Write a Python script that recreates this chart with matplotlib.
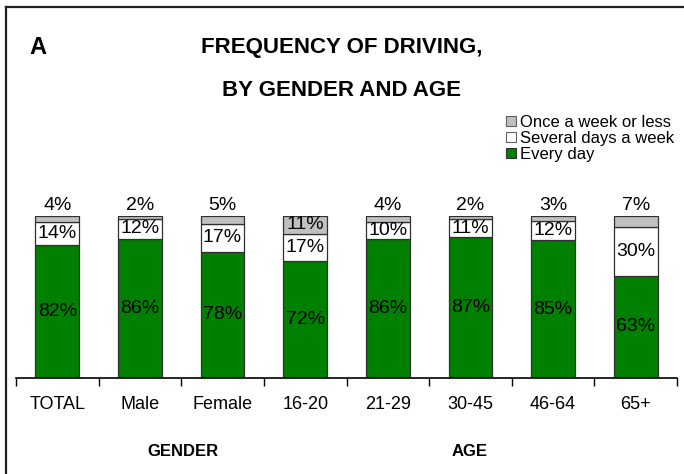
import matplotlib
matplotlib.use("Agg")
import matplotlib.pyplot as plt
from matplotlib.patches import Patch
from matplotlib.lines import Line2D
import numpy as np

categories = ["TOTAL", "Male", "Female", "16-20", "21-29", "30-45", "46-64", "65+"]
every_day = [82, 86, 78, 72, 86, 87, 85, 63]
several_days = [14, 12, 17, 17, 10, 11, 12, 30]
once_or_less = [4, 2, 5, 11, 4, 2, 3, 7]
group_labels = ["GENDER", "AGE"]

FONT = ["Liberation Sans Narrow", "Liberation Sans", "DejaVu Sans"]
plt.rcParams["font.family"] = FONT

W, H = 684, 474
fig = plt.figure(figsize=(W / 100, H / 100), dpi=100)
ax = fig.add_axes([16 / W, 96 / H, 661 / W, 162 / H])

x = np.arange(len(categories))
bw = 0.53
green = "#008000"
grey = "#C0C0C0"
edge = "#303030"

ax.bar(x, every_day, bw, color=green, edgecolor=edge, linewidth=0.9)
ax.bar(x, several_days, bw, bottom=every_day, color="white", edgecolor=edge, linewidth=0.9)
bottom3 = [a + b for a, b in zip(every_day, several_days)]
ax.bar(x, once_or_less, bw, bottom=bottom3, color=grey, edgecolor=edge, linewidth=0.9)

fs = 14
for i in range(len(categories)):
    ax.text(x[i], every_day[i] / 2, f"{every_day[i]}%", ha="center", va="center", fontsize=fs)
    ax.text(x[i], every_day[i] + several_days[i] / 2, f"{several_days[i]}%", ha="center", va="center", fontsize=fs)
    if once_or_less[i] >= 10:
        ax.text(x[i], bottom3[i] + once_or_less[i] / 2, f"{once_or_less[i]}%", ha="center", va="center", fontsize=fs)
    else:
        ax.annotate(f"{once_or_less[i]}%", (x[i], 100), xytext=(0, 1.5), textcoords="offset points",
                    ha="center", va="bottom", fontsize=fs, annotation_clip=False)

ax.set_xlim(-0.5, len(categories) - 0.5)
ax.set_ylim(0, 100)
for s in ["top", "right", "left"]:
    ax.spines[s].set_visible(False)
ax.spines["bottom"].set_color("black")
ax.spines["bottom"].set_linewidth(1.2)
ax.set_yticks([])
ax.set_xticks(np.arange(len(categories) + 1) - 0.5)
ax.set_xticklabels([])
ax.set_xticks(x, minor=True)
ax.set_xticklabels(categories, minor=True, fontsize=13)
ax.tick_params(axis="x", which="major", direction="out", length=5.5, width=1, color="black")
ax.tick_params(axis="x", which="minor", length=0, pad=13)

# group labels
ax.text((183 - 16) / 661, -74 / 162, group_labels[0], transform=ax.transAxes,
        ha="center", va="center", fontsize=12, fontweight="bold")
ax.text((470 - 16) / 661, -74 / 162, group_labels[1], transform=ax.transAxes,
        ha="center", va="center", fontsize=12, fontweight="bold")

# titles
fig.text(38 / W, 1 - 47 / H, "A", ha="center", va="center", fontsize=17, fontweight="bold")
fig.text(342 / W, 1 - 47 / H, "FREQUENCY OF DRIVING,", ha="center", va="center", fontsize=16, fontweight="bold")
fig.text(342 / W, 1 - 90 / H, "BY GENDER AND AGE", ha="center", va="center", fontsize=16, fontweight="bold")

# legend
handles = [Patch(facecolor=grey, edgecolor="#606060", linewidth=0.8),
           Patch(facecolor="white", edgecolor="#606060", linewidth=0.8),
           Patch(facecolor=green, edgecolor="#303030", linewidth=0.8)]
labels = ["Once a week or less", "Several days a week", "Every day"]
fig.legend(handles, labels, loc="upper left", bbox_to_anchor=(506 / W, 1 - 115 / H),
           frameon=False, fontsize=12, labelspacing=0.05, handlelength=0.6, handleheight=0.6,
           handletextpad=0.25, borderpad=0, borderaxespad=0)

# partial frame (top and left)
fig.add_artist(Line2D([6 / W, 1], [1 - 7 / H, 1 - 7 / H], transform=fig.transFigure, color="#202020", linewidth=1.6))
fig.add_artist(Line2D([6 / W, 6 / W], [0, 1 - 7 / H], transform=fig.transFigure, color="#202020", linewidth=1.6))

fig.savefig("out.png", dpi=100)
